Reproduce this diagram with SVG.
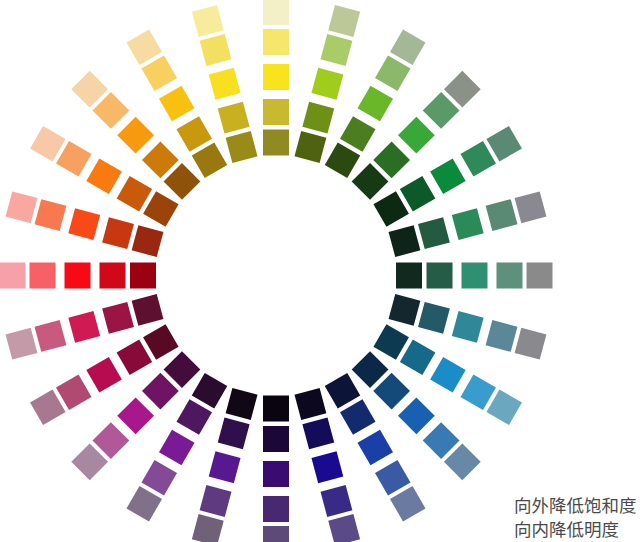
<svg xmlns="http://www.w3.org/2000/svg" width="640" height="542" viewBox="0 0 640 542">
<style>
  .lbl { font-family: "Noto Sans CJK SC", "Noto Sans", sans-serif; font-size: 17.5px; fill: #4a4a4a; }
</style>
<defs>
  <rect id="s1" x="263" y="129.5" width="26" height="26"/>
  <rect id="s2" x="263" y="99" width="26" height="26"/>
  <rect id="s3" x="263" y="64" width="26" height="26"/>
  <rect id="s4" x="263" y="29" width="26" height="26"/>
  <rect id="s5" x="263" y="-1" width="26" height="26"/>
</defs>
<rect width="640" height="542" fill="#ffffff"/>
<g id="wheel">
  <g id="ray-000" transform="rotate(0 276 275.5)"><use href="#s1" fill="#8f8a22"/><use href="#s2" fill="#c9b92e"/><use href="#s3" fill="#f9e31f"/><use href="#s4" fill="#f7e66c"/><use href="#s5" fill="#f3efc6"/></g>
  <g id="ray-015" transform="rotate(15 276 275.5)"><use href="#s1" fill="#4e6210"/><use href="#s2" fill="#6e9016"/><use href="#s3" fill="#a0cc1c"/><use href="#s4" fill="#aacc68"/><use href="#s5" fill="#bcc898"/></g>
  <g id="ray-030" transform="rotate(30 276 275.5)"><use href="#s1" fill="#2c4a10"/><use href="#s2" fill="#4a7e1e"/><use href="#s3" fill="#6ab82a"/><use href="#s4" fill="#8cb86a"/><use href="#s5" fill="#a4b898"/></g>
  <g id="ray-045" transform="rotate(45 276 275.5)"><use href="#s1" fill="#163a14"/><use href="#s2" fill="#2a6e24"/><use href="#s3" fill="#3aa838"/><use href="#s4" fill="#5a9a68"/><use href="#s5" fill="#8a9288"/></g>
  <g id="ray-060" transform="rotate(60 276 275.5)"><use href="#s1" fill="#0c2a12"/><use href="#s2" fill="#0c5a28"/><use href="#s3" fill="#0c8a3c"/><use href="#s4" fill="#2e8a58"/><use href="#s5" fill="#5a8a74"/></g>
  <g id="ray-075" transform="rotate(75 276 275.5)"><use href="#s1" fill="#0e2418"/><use href="#s2" fill="#245a40"/><use href="#s3" fill="#2a8a58"/><use href="#s4" fill="#5a8a74"/><use href="#s5" fill="#8a8890"/></g>
  <g id="ray-090" transform="rotate(90 276 275.5)"><use href="#s1" fill="#11291f"/><use href="#s2" fill="#245c48"/><use href="#s3" fill="#2e9070"/><use href="#s4" fill="#5e907e"/><use href="#s5" fill="#8a8a8a"/></g>
  <g id="ray-105" transform="rotate(105 276 275.5)"><use href="#s1" fill="#12282e"/><use href="#s2" fill="#245a66"/><use href="#s3" fill="#2e8898"/><use href="#s4" fill="#5a8898"/><use href="#s5" fill="#8a8a8e"/></g>
  <g id="ray-120" transform="rotate(120 276 275.5)"><use href="#s1" fill="#0c3a50"/><use href="#s2" fill="#146a88"/><use href="#s3" fill="#1a8cc8"/><use href="#s4" fill="#3a9ccc"/><use href="#s5" fill="#6aa8c0"/></g>
  <g id="ray-135" transform="rotate(135 276 275.5)"><use href="#s1" fill="#0c2848"/><use href="#s2" fill="#134a7a"/><use href="#s3" fill="#1860b0"/><use href="#s4" fill="#3a7ab4"/><use href="#s5" fill="#6888a8"/></g>
  <g id="ray-150" transform="rotate(150 276 275.5)"><use href="#s1" fill="#0c1438"/><use href="#s2" fill="#142a6e"/><use href="#s3" fill="#1a40a8"/><use href="#s4" fill="#3a5aa4"/><use href="#s5" fill="#6a7aa0"/></g>
  <g id="ray-165" transform="rotate(165 276 275.5)"><use href="#s1" fill="#0c0820"/><use href="#s2" fill="#140c58"/><use href="#s3" fill="#1a0a90"/><use href="#s4" fill="#3a2a88"/><use href="#s5" fill="#5a4a88"/></g>
  <g id="ray-180" transform="rotate(180 276 275.5)"><use href="#s1" fill="#0a0410"/><use href="#s2" fill="#1c0838"/><use href="#s3" fill="#3a0c72"/><use href="#s4" fill="#482870"/><use href="#s5" fill="#5e4a78"/></g>
  <g id="ray-195" transform="rotate(195 276 275.5)"><use href="#s1" fill="#100814"/><use href="#s2" fill="#30104c"/><use href="#s3" fill="#581890"/><use href="#s4" fill="#603a80"/><use href="#s5" fill="#706078"/></g>
  <g id="ray-210" transform="rotate(210 276 275.5)"><use href="#s1" fill="#2a0c2e"/><use href="#s2" fill="#4e1860"/><use href="#s3" fill="#7a1a94"/><use href="#s4" fill="#844a96"/><use href="#s5" fill="#80708a"/></g>
  <g id="ray-225" transform="rotate(225 276 275.5)"><use href="#s1" fill="#440c3c"/><use href="#s2" fill="#6e1462"/><use href="#s3" fill="#a8188c"/><use href="#s4" fill="#b05898"/><use href="#s5" fill="#a888a0"/></g>
  <g id="ray-240" transform="rotate(240 276 275.5)"><use href="#s1" fill="#580a24"/><use href="#s2" fill="#880a38"/><use href="#s3" fill="#b80c50"/><use href="#s4" fill="#b04a70"/><use href="#s5" fill="#a87890"/></g>
  <g id="ray-255" transform="rotate(255 276 275.5)"><use href="#s1" fill="#5e1030"/><use href="#s2" fill="#9a1444"/><use href="#s3" fill="#d01a54"/><use href="#s4" fill="#c85a80"/><use href="#s5" fill="#c49aa8"/></g>
  <g id="ray-270" transform="rotate(270 276 275.5)"><use href="#s1" fill="#9a0010"/><use href="#s2" fill="#d00818"/><use href="#s3" fill="#f80a14"/><use href="#s4" fill="#f86068"/><use href="#s5" fill="#f8a0a8"/></g>
  <g id="ray-285" transform="rotate(285 276 275.5)"><use href="#s1" fill="#9a2810"/><use href="#s2" fill="#c83810"/><use href="#s3" fill="#f84a18"/><use href="#s4" fill="#f87850"/><use href="#s5" fill="#f8a8a0"/></g>
  <g id="ray-300" transform="rotate(300 276 275.5)"><use href="#s1" fill="#9a440a"/><use href="#s2" fill="#c85a0a"/><use href="#s3" fill="#f87a10"/><use href="#s4" fill="#f8a060"/><use href="#s5" fill="#f8c8a8"/></g>
  <g id="ray-315" transform="rotate(315 276 275.5)"><use href="#s1" fill="#8e5208"/><use href="#s2" fill="#cc7a0a"/><use href="#s3" fill="#f89a10"/><use href="#s4" fill="#f8b868"/><use href="#s5" fill="#f6d4a8"/></g>
  <g id="ray-330" transform="rotate(330 276 275.5)"><use href="#s1" fill="#9a7810"/><use href="#s2" fill="#c8980e"/><use href="#s3" fill="#f8c010"/><use href="#s4" fill="#f8d060"/><use href="#s5" fill="#f6dca0"/></g>
  <g id="ray-345" transform="rotate(345 276 275.5)"><use href="#s1" fill="#9a8a18"/><use href="#s2" fill="#c8b020"/><use href="#s3" fill="#f8e020"/><use href="#s4" fill="#f4e060"/><use href="#s5" fill="#f6ec9c"/></g>
</g>
<g id="connectors"/>
<g id="legend">
  <text class="lbl" x="514" y="511.5">向外降低饱和度</text>
  <text class="lbl" x="514" y="535.5">向内降低明度</text>
</g>
</svg>
